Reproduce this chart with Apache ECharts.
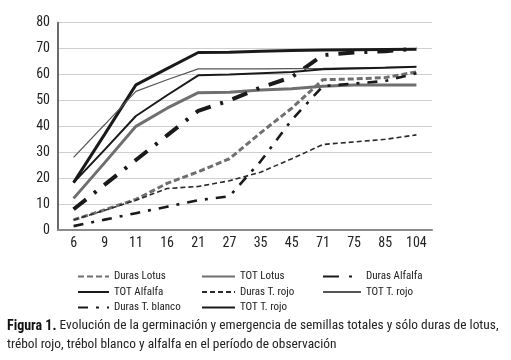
<!DOCTYPE html>
<html><head><meta charset="utf-8">
<script src="https://cdn.jsdelivr.net/npm/echarts@6/dist/echarts.min.js"></script>
<style>html,body{margin:0;padding:0;background:#fff}#c{width:511px;height:360px}</style>
</head><body><div id="c"></div>
<script>
const categories = ['6','9','11','16','21','27','35','45','71','75','85','104'];
const yTicks = [0,10,20,30,40,50,60,70,80];
const durasLotus   = [3.9, 7.8, 11.8, 18, 22.5, 27.5, 37.5, 47, 58, 58.3, 58.8, 61];
const totLotus     = [12.2, 26, 40, 47, 53, 53.2, 54, 54.5, 55.5, 56, 56, 56];
const durasAlfalfa = [8, 17.5, 27, 36.5, 46, 50, 55, 59, 67.5, 68.5, 69, 70];
const totAlfalfa   = [18.3, 37, 56, 62.3, 68.5, 68.6, 69, 69.3, 69.5, 69.6, 69.7, 69.8];
const durasTrojo   = [3.9, 7.6, 11.5, 16, 16.8, 19, 22.3, 27.5, 33, 34, 35, 36.7];
const totTrojo     = [28, 40.7, 53.5, 58, 62.2, 62.2, 62.2, 62.3, 62.4, 62.6, 62.8, 63];
const durasTblanco = [1.5, 4, 6.5, 9, 11.5, 13, 26.5, 42.5, 55.5, 56.5, 57.5, 60.5];
const totTblanco   = [18.3, 31, 44, 52, 59.7, 60, 60.5, 61, 62, 62.3, 62.6, 63];

const names = ['Duras Lotus','TOT Lotus','Duras Alfalfa','TOT Alfalfa','Duras T. rojo','TOT T. rojo','Duras T. blanco','TOT T. rojo '];
const FONT = '"Liberation Sans Narrow", "Arial Narrow", "Roboto Condensed", Roboto, "Liberation Sans", sans-serif';

function ser(name, data, color, width, type) {
  return { name, type: 'line', data, symbol: 'none', smooth: false,
    lineStyle: { color, width, type, cap: 'butt' }, itemStyle: { color } };
}
const chart = echarts.init(document.getElementById('c'), null, { renderer: 'canvas' });
function leg(left, top, itemWidth, data) {
  return { orient: 'vertical', left, top, itemWidth, itemHeight: 10, itemGap: 4.5, data,
    itemStyle: { opacity: 0 },
    textStyle: { fontFamily: FONT, fontSize: 11, color: '#222' }, selectedMode: false };
}
chart.setOption({
  animation: false,
  grid: { left: 58, right: 79, top: 22.7, bottom: 130 },
  xAxis: { type: 'category', data: categories, boundaryGap: true,
    axisLine: { lineStyle: { color: '#8a8a8a', width: 2 } }, axisTick: { show: false },
    axisLabel: { fontFamily: FONT, fontSize: 14, color: '#222', margin: 6 } },
  yAxis: { type: 'value', min: yTicks[0], max: yTicks[yTicks.length-1], interval: 10,
    axisLine: { show: true, lineStyle: { color: '#6a6a6a', width: 2 } }, axisTick: { show: false },
    splitLine: { lineStyle: { color: '#cfcfcf', width: 1 } },
    axisLabel: { fontFamily: FONT, fontSize: 14, color: '#222', margin: 8 } },
  legend: [
    leg(72, 266, 31, [names[0], names[3], names[6]]),
    leg(196, 266, 33, [names[1], names[4], names[7]]),
    leg(317, 266, 38, [names[2], names[5]])
  ],
  series: [
    ser(names[0], durasLotus, '#6f6f6f', 3, [6, 3]),
    ser(names[1], totLotus, '#6f6f6f', 3, 'solid'),
    ser(names[2], durasAlfalfa, '#1a1a1a', 4, [16, 10, 3, 10]),
    ser(names[3], totAlfalfa, '#1a1a1a', 3, 'solid'),
    ser(names[4], durasTrojo, '#2a2a2a', 1.6, [5, 3]),
    ser(names[5], totTrojo, '#555555', 1.2, 'solid'),
    ser(names[6], durasTblanco, '#1a1a1a', 2.6, [10, 8, 3, 8]),
    ser(names[7], totTblanco, '#1a1a1a', 2, 'solid')
  ],
  graphic: [
    { type: 'text', left: 7, top: 319, style: {
      text: '{b|Figura 1.} Evolución de la germinación y emergencia de semillas totales y sólo duras de lotus,',
      font: '13.4px ' + FONT, fill: '#222',
      rich: { b: { fontFamily: FONT, fontSize: 14, fontWeight: 'bold', fill: '#111' } } } },
    { type: 'text', left: 7, top: 338, style: {
      text: 'trébol rojo, trébol blanco y alfalfa en el período de observación',
      font: '13.4px ' + FONT, fill: '#222' } }
  ]
});
</script></body></html>
